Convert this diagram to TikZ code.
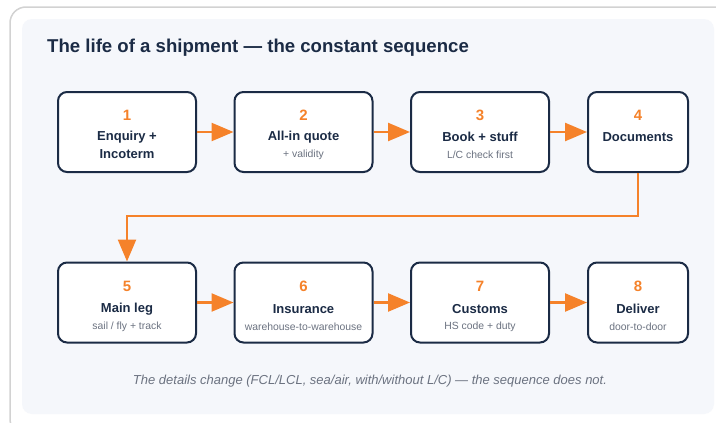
\documentclass[tikz,border=0pt]{standalone}
\usepackage{fontspec}
\setmainfont{Liberation Sans}
\usetikzlibrary{arrows.meta,calc}
\definecolor{navy}{HTML}{1B2B45}
\definecolor{orng}{HTML}{F5822A}
\definecolor{subgray}{HTML}{6B7280}
\definecolor{panel}{HTML}{F5F7FB}
\definecolor{frame}{HTML}{D2D2D2}
\tikzset{
  stepbox/.style={draw=navy, line width=2pt, fill=white, rounded corners=9pt, minimum height=80pt, inner sep=0pt},
  wide/.style={stepbox, minimum width=138pt},
  narrow/.style={stepbox, minimum width=100pt},
  num/.style={text=orng, font=\fontsize{15}{18}\selectfont\bfseries, inner sep=0pt},
  ttl/.style={text=navy, font=\fontsize{13}{16}\selectfont\bfseries, inner sep=0pt, align=center},
  sub/.style={text=subgray, font=\fontsize{10.4}{12}\selectfont, inner sep=0pt},
  arr/.style={draw=orng, line width=2.5pt, -{Triangle[length=22pt,width=18pt]}},
}
\begin{document}
\begin{tikzpicture}[x=1pt,y=-1pt]
\useasboundingbox (0,0) rectangle (716,423);
\begin{scope}
\clip (0,0) rectangle (716,423);
\draw[frame, line width=1.5pt, fill=white, rounded corners=16pt] (10,7) rectangle (730,435);
\end{scope}
\fill[panel, rounded corners=10pt] (22,19) rectangle (714,414);
\node[anchor=base west, text=navy, font=\fontsize{18.6}{22}\selectfont\bfseries, inner sep=0pt] (title) at (47,52.5) {The life of a shipment — the constant sequence};

\node[wide] (b1) at (127,132) {};
\node[wide] (b2) at (303.5,132) {};
\node[wide] (b3) at (480,132) {};
\node[narrow] (b4) at (638,132) {};
\node[wide] (b5) at (127,302.5) {};
\node[wide] (b6) at (303.5,302.5) {};
\node[wide] (b7) at (480,302.5) {};
\node[narrow] (b8) at (638,302.5) {};

% row 1 texts
\node[num] (n1) at ($(b1.center)+(0,-17)$) {1};
\node[ttl] (t1a) at ($(b1.center)+(0,5)$) {Enquiry +};
\node[ttl] (t1b) at ($(b1.center)+(0,22)$) {Incoterm};
\node[num] (n2) at ($(b2.center)+(0,-17)$) {2};
\node[ttl] (t2) at ($(b2.center)+(0,5)$) {All-in quote};
\node[sub] (s2) at ($(b2.center)+(0,23)$) {+ validity};
\node[num] (n3) at ($(b3.center)+(0,-17)$) {3};
\node[ttl] (t3) at ($(b3.center)+(0,5)$) {Book + stuff};
\node[sub] (s3) at ($(b3.center)+(0,23)$) {L/C check first};
\node[num] (n4) at ($(b4.center)+(0,-17)$) {4};
\node[ttl] (t4) at ($(b4.center)+(0,5)$) {Documents};
% row 2 texts
\node[num] (n5) at ($(b5.center)+(0,-16.5)$) {5};
\node[ttl] (t5) at ($(b5.center)+(0,6.5)$) {Main leg};
\node[sub] (s5) at ($(b5.center)+(0,24.5)$) {sail / fly + track};
\node[num] (n6) at ($(b6.center)+(0,-16.5)$) {6};
\node[ttl] (t6) at ($(b6.center)+(0,6.5)$) {Insurance};
\node[sub] (s6) at ($(b6.center)+(0,24.5)$) {warehouse-to-warehouse};
\node[num] (n7) at ($(b7.center)+(0,-16.5)$) {7};
\node[ttl] (t7) at ($(b7.center)+(0,6.5)$) {Customs};
\node[sub] (s7) at ($(b7.center)+(0,24.5)$) {HS code + duty};
\node[num] (n8) at ($(b8.center)+(0,-16.5)$) {8};
\node[ttl] (t8) at ($(b8.center)+(0,6.5)$) {Deliver};
\node[sub] (s8) at ($(b8.center)+(0,24.5)$) {door-to-door};

\draw[arr] (b1.east) -- (b2.west);
\draw[arr] (b2.east) -- (b3.west);
\draw[arr] (b3.east) -- (b4.west);
\coordinate (mid) at (382,216);
\draw[arr] (b4.south) |- (mid) -| (b5.north);
\draw[arr] (b5.east) -- (b6.west);
\draw[arr] (b6.east) -- (b7.west);
\draw[arr] (b7.east) -- (b8.west);

\node[text=subgray, font=\fontsize{13}{15}\selectfont\itshape, inner sep=0pt] (foot) at (370,381) {The details change (FCL/LCL, sea/air, with/without L/C) — the sequence does not.};
\end{tikzpicture}
\end{document}
